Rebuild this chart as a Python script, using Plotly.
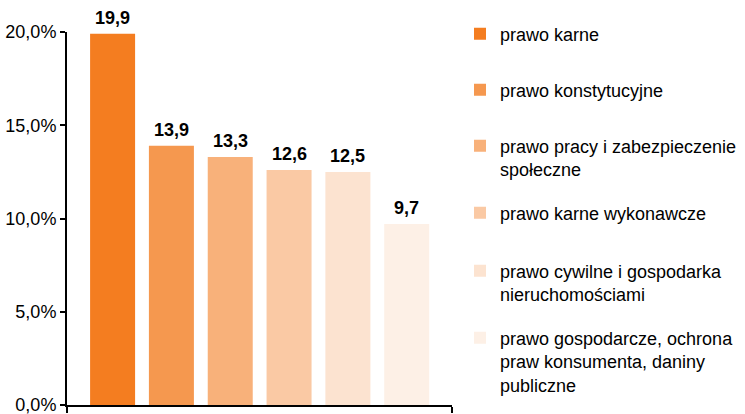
import plotly.graph_objects as go

categories = [
    "prawo karne",
    "prawo konstytucyjne",
    "prawo pracy i zabezpieczenie<br>społeczne",
    "prawo karne wykonawcze",
    "prawo cywilne i gospodarka<br>nieruchomościami",
    "prawo gospodarcze, ochrona<br>praw konsumenta, daniny<br>publiczne",
]
values = [19.9, 13.9, 13.3, 12.6, 12.5, 9.7]
labels = ["19,9", "13,9", "13,3", "12,6", "12,5", "9,7"]
colors = ["#F47D20", "#F5984F", "#F8B17A", "#FAC9A4", "#FCE3D0", "#FDF0E6"]
y_ticks = [0, 5, 10, 15, 20]
y_tick_labels = ["0,0%", "5,0%", "10,0%", "15,0%", "20,0%"]

W, H = 745, 414
ML, MT, MB = 67, 32, 9
MR = W - 452
xmin, xmax = -0.775, 5.77

# legend first-line centres (pixels from top)
legend_centers = [35, 91, 147, 214, 272, 339]

FONT = "Liberation Sans, Arial, sans-serif"

fig = go.Figure()
layout_legends = {}
for i, (cat, v, c) in enumerate(zip(categories, values, colors)):
    lname = "legend" if i == 0 else f"legend{i+1}"
    fig.add_trace(go.Bar(
        x=[i], y=[v], name=cat, marker=dict(color=c, line=dict(width=0)),
        width=0.765, legend=lname, hoverinfo="skip",
    ))
    top_px = legend_centers[i] - 19.5
    layout_legends[lname] = dict(
        xref="container", yref="container",
        x=(500 - 40) / W, xanchor="left",
        y=(H - top_px) / H, yanchor="top",
        valign="top", bgcolor="rgba(0,0,0,0)", borderwidth=0,
        font=dict(family=FONT, size=18, color="#000000"),
        itemclick=False, itemdoubleclick=False,
    )

for i, (v, t) in enumerate(zip(values, labels)):
    fig.add_annotation(
        x=i, y=v, text=f"<b>{t}</b>", showarrow=False,
        yanchor="bottom", yshift=4,
        font=dict(family=FONT, size=18, color="#000000"),
    )

fig.update_layout(
    width=W, height=H,
    margin=dict(l=ML, r=MR, t=MT, b=MB, pad=0, autoexpand=False),
    paper_bgcolor="white", plot_bgcolor="white",
    barmode="overlay", showlegend=True, hovermode=False,
    font=dict(family=FONT, size=18, color="#000000"),
    **layout_legends,
)
fig.update_xaxes(
    range=[xmin, xmax], showgrid=False, zeroline=False,
    showline=True, linecolor="#000000", linewidth=2,
    tickmode="array", tickvals=[xmin, xmax], ticks="outside",
    ticklen=6, tickwidth=1.5, tickcolor="#000000", showticklabels=False,
)
fig.update_yaxes(
    range=[0, 20], showgrid=False, zeroline=False,
    showline=True, linecolor="#000000", linewidth=2,
    tickmode="array", tickvals=y_ticks, ticktext=y_tick_labels,
    ticks="outside", ticklen=5, tickwidth=1.5, tickcolor="#000000",
    tickfont=dict(family=FONT, size=18, color="#000000"),
    ticklabeloverflow="allow",
)

fig.write_html(
    "out.html",
    config={"displayModeBar": False},
    post_script="document.body.style.margin='0';document.body.style.overflow='hidden';",
)
